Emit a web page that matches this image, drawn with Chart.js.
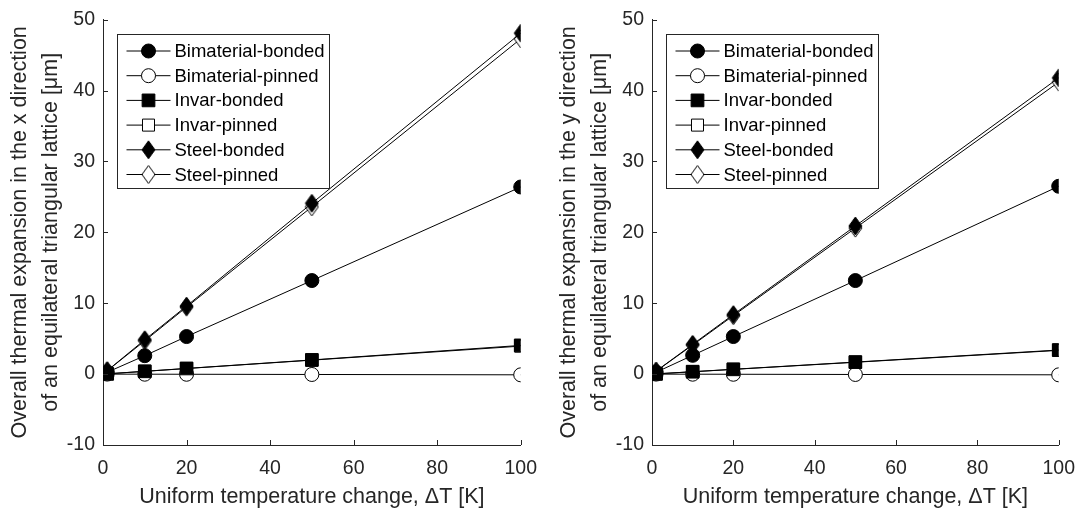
<!DOCTYPE html>
<html>
<head>
<meta charset="utf-8">
<script src="https://cdn.jsdelivr.net/npm/chart.js@4.4.1/dist/chart.umd.min.js"></script>
<style>
  html, body { margin: 0; padding: 0; background: #fff; }
  #wrap { position: relative; width: 1087px; height: 510px; overflow: hidden; }
  #c1 { position: absolute; left: 0; top: 0; }
  #c2 { position: absolute; left: 549px; top: 0; }
</style>
</head>
<body>
<div id="wrap">
  <canvas id="c1" width="549" height="510"></canvas>
  <canvas id="c2" width="538" height="510"></canvas>
</div>
<script>
// ---- data ----
const deltaT = [1, 10, 20, 50, 100];
const seriesNames = ['Bimaterial-bonded', 'Bimaterial-pinned', 'Invar-bonded', 'Invar-pinned', 'Steel-bonded', 'Steel-pinned'];

// x direction (left panel)
const xBimatBonded = [0.26, 2.6, 5.3, 13.2, 26.4];
const xBimatPinned = [0.0, -0.01, -0.02, -0.05, -0.1];
const xInvarBonded = [0.04, 0.4, 0.8, 2.0, 4.05];
const xInvarPinned = [0.04, 0.39, 0.79, 1.97, 3.95];
const xSteelBonded = [0.48, 4.85, 9.6, 24.1, 48.1];
const xSteelPinned = [0.47, 4.7, 9.45, 23.6, 47.3];

// y direction (right panel)
const yBimatBonded = [0.26, 2.65, 5.3, 13.2, 26.5];
const yBimatPinned = [0.0, -0.01, -0.02, -0.05, -0.1];
const yInvarBonded = [0.034, 0.34, 0.68, 1.7, 3.4];
const yInvarPinned = [0.033, 0.33, 0.67, 1.67, 3.35];
const ySteelBonded = [0.42, 4.2, 8.4, 20.9, 41.8];
const ySteelPinned = [0.41, 4.1, 8.25, 20.6, 41.2];

const xTitle = 'Uniform temperature change, \u0394T [K]';
const yTitleLeft = ['Overall thermal expansion in the x direction', 'of an equilateral triangular lattice [\u03bcm]'];
const yTitleRight = ['Overall thermal expansion in the y direction', 'of an equilateral triangular lattice [\u03bcm]'];
const yTicksRange = [-10, 50, 10];
const xTicksRange = [0, 100, 20];

// ---- styling ----
const AX = '#262626';
const FONT = '"Liberation Sans", Arial, Helvetica, sans-serif';

function makeDiamond(filled) {
  const w = 13, h = 18;
  const c = document.createElement('canvas');
  c.width = w + 2; c.height = h + 2;
  const g = c.getContext('2d');
  g.beginPath();
  g.moveTo(c.width / 2, 1);
  g.lineTo(c.width - 1, c.height / 2);
  g.lineTo(c.width / 2, c.height - 1);
  g.lineTo(1, c.height / 2);
  g.closePath();
  g.fillStyle = filled ? '#000' : '#fff';
  g.fill();
  g.strokeStyle = '#000';
  g.lineWidth = 1;
  g.stroke();
  return c;
}
const diamondFilled = makeDiamond(true);
const diamondHollow = makeDiamond(false);

const markerStyles = [
  { pointStyle: 'circle', radius: 7, fill: '#000', order: 0 },
  { pointStyle: 'circle', radius: 7, fill: '#fff', order: 3 },
  { pointStyle: 'rect', radius: 9, fill: '#000', order: 1 },
  { pointStyle: 'rect', radius: 8.5, fill: '#fff', order: 4 },
  { pointStyle: diamondFilled, radius: 9, fill: '#000', order: 2 },
  { pointStyle: diamondHollow, radius: 9, fill: '#fff', order: 5 }
];

function buildDatasets(seriesList) {
  return seriesList.map((vals, i) => {
    const m = markerStyles[i];
    return {
      label: seriesNames[i],
      data: deltaT.map((t, j) => ({ x: t, y: vals[j] })),
      borderColor: '#000',
      borderWidth: 1,
      backgroundColor: m.fill,
      pointStyle: m.pointStyle,
      pointRadius: m.radius,
      pointHoverRadius: m.radius,
      pointBackgroundColor: m.fill,
      pointBorderColor: '#000',
      pointBorderWidth: 1,
      tension: 0,
      fill: false,
      order: m.order
    };
  });
}

function drawMarker(ctx, m, x, y) {
  ctx.fillStyle = m.fill;
  ctx.strokeStyle = '#000';
  ctx.lineWidth = 1;
  if (typeof m.pointStyle !== 'string') {
    ctx.drawImage(m.pointStyle, x - m.pointStyle.width / 2, y - m.pointStyle.height / 2);
    return;
  }
  ctx.beginPath();
  if (m.pointStyle === 'circle') {
    ctx.arc(x, y, m.radius, 0, Math.PI * 2);
  } else {
    const s = Math.SQRT1_2 * m.radius;
    ctx.rect(x - s, y - s, 2 * s, 2 * s);
  }
  ctx.fill();
  ctx.stroke();
}

const boxLegend = {
  id: 'boxLegend',
  afterDatasetsDraw(chart) {
    const ctx = chart.ctx;
    const a = chart.chartArea;
    const x0 = Math.round(a.left + 14) + 0.5, y0 = Math.round(a.top + 14) + 0.5;
    const w = 212, h = 154;
    ctx.save();
    ctx.fillStyle = '#fff';
    ctx.fillRect(x0, y0, w, h);
    ctx.strokeStyle = AX;
    ctx.lineWidth = 1;
    ctx.strokeRect(x0, y0, w, h);
    chart.data.datasets.forEach((ds, i) => {
      const cy = y0 + 16.5 + i * 24.7;
      ctx.beginPath();
      ctx.strokeStyle = '#000';
      ctx.lineWidth = 1;
      ctx.moveTo(x0 + 9, cy);
      ctx.lineTo(x0 + 53, cy);
      ctx.stroke();
      drawMarker(ctx, markerStyles[i], x0 + 31, cy);
      ctx.fillStyle = '#000';
      ctx.font = '18.5px ' + FONT;
      ctx.textAlign = 'left';
      ctx.textBaseline = 'middle';
      ctx.fillText(ds.label, x0 + 57, cy + 1);
    });
    ctx.restore();
  }
};

const inwardTicks = {
  id: 'inwardTicks',
  afterDraw(chart) {
    const ctx = chart.ctx;
    const a = chart.chartArea;
    const xs = chart.scales.x, ys = chart.scales.y;
    ctx.save();
    ctx.strokeStyle = AX;
    ctx.lineWidth = 1;
    ctx.beginPath();
    xs.ticks.forEach(t => {
      const px = Math.round(xs.getPixelForValue(t.value)) + 0.5;
      ctx.moveTo(px, a.bottom);
      ctx.lineTo(px, a.bottom - 5);
    });
    ys.ticks.forEach(t => {
      const py = Math.round(ys.getPixelForValue(t.value)) + 0.5;
      ctx.moveTo(a.left, py);
      ctx.lineTo(a.left + 5, py);
    });
    ctx.stroke();
    ctx.restore();
  }
};

function makeChart(id, seriesList, yTitle, rightPad) {
  return new Chart(document.getElementById(id), {
    type: 'line',
    data: { datasets: buildDatasets(seriesList) },
    plugins: [boxLegend, inwardTicks],
    options: {
      responsive: false,
      animation: false,
      devicePixelRatio: 1,
      layout: { padding: { left: 0, top: 17.5, right: rightPad, bottom: 0 } },
      plugins: { legend: { display: false }, tooltip: { enabled: false } },
      scales: {
        x: {
          type: 'linear',
          min: xTicksRange[0], max: xTicksRange[1],
          afterFit(scale) { scale.height = 65; },
          ticks: { stepSize: xTicksRange[2], color: AX, padding: 12, font: { family: FONT, size: 19.5 }, maxRotation: 0 },
          grid: { display: true, drawOnChartArea: false, drawTicks: false },
          border: { display: true, color: AX, width: 1 },
          title: { display: true, text: xTitle, color: AX, font: { family: FONT, size: 21.5, lineHeight: 1.2 }, padding: { top: 0, bottom: 0 } }
        },
        y: {
          min: yTicksRange[0], max: yTicksRange[1],
          afterFit(scale) { scale.width = 103; },
          ticks: { stepSize: yTicksRange[2], color: AX, padding: 8, font: { family: FONT, size: 19.5 } },
          grid: { display: true, drawOnChartArea: false, drawTicks: false },
          border: { display: true, color: AX, width: 1 },
          title: { display: true, text: yTitle, color: AX, font: { family: FONT, size: 21.5, lineHeight: 1.442 }, padding: { top: 4.5, bottom: 0 } }
        }
      }
    }
  });
}

makeChart('c1', [xBimatBonded, xBimatPinned, xInvarBonded, xInvarPinned, xSteelBonded, xSteelPinned], yTitleLeft, 27.3);
makeChart('c2', [yBimatBonded, yBimatPinned, yInvarBonded, yInvarPinned, ySteelBonded, ySteelPinned], yTitleRight, 16.5);
</script>
</body>
</html>
